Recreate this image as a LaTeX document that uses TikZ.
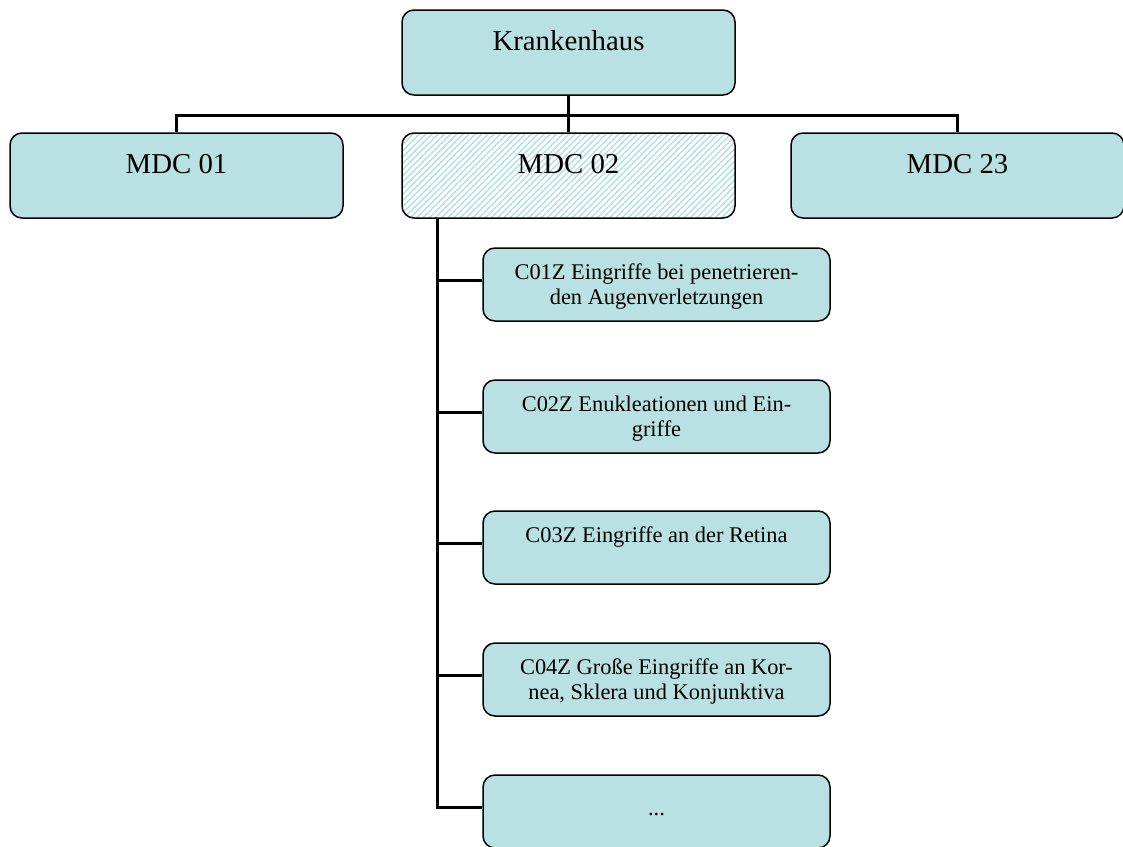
\documentclass[tikz,border=0pt]{standalone}
\usepackage{fontspec}
\setmainfont{Liberation Serif}
\usetikzlibrary{patterns.meta}
\definecolor{boxfill}{RGB}{185,224,227}

\begin{document}
\begin{tikzpicture}[x=0.5pt, y=-0.5pt]
    % Node styles
    \tikzstyle{unit} = [rectangle, rounded corners=6pt, draw, line width=0.75pt, fill=boxfill, minimum width=166.5pt, minimum height=42.5pt, inner ysep=0pt, text height=20pt, text depth=22.5pt, font=\fontsize{14.4}{17}\selectfont]
    \tikzstyle{drg} = [rectangle, rounded corners=6pt, draw, line width=0.75pt, fill=boxfill, minimum width=173.5pt, minimum height=36.5pt, inner ysep=0pt, text height=15.5pt, text depth=21pt, align=center, font=\fontsize{11.2}{12.8}\selectfont]
    \tikzstyle{twoline} = [text height=28.3pt, text depth=8.2pt]
    \tikzstyle{link} = [line width=1.3pt]

    \useasboundingbox (0,0) rectangle (1123,846);

    % Nodes
    \node (krankenhaus) at (568.5, 52.5) [unit] {Krankenhaus};
    \node (mdc_01) at (176.5, 175.5) [unit] {MDC 01};
    \node (mdc_02) at (568.5, 175.5) [unit, fill=none, pattern={Lines[angle=45, distance=2.2pt, line width=0.8pt]}, pattern color=boxfill] {MDC 02};
    \node (mdc_23) at (957.5, 175.5) [unit] {MDC 23};
    \node (c01z) at (656.5, 284.5) [drg, twoline] {C01Z Eingriffe bei penetrieren-\\den Augenverletzungen};
    \node (c02z) at (656.5, 416.5) [drg, twoline] {C02Z Enukleationen und Ein-\\griffe};
    \node (c03z) at (656.5, 547.5) [drg] {C03Z Eingriffe an der Retina};
    \node (c04z) at (656.5, 679.5) [drg, twoline] {C04Z Große Eingriffe an Kor-\\nea, Sklera und Konjunktiva};
    \node (c_more) at (656.5, 811.5) [drg, text height=20pt, text depth=16.5pt] {...};

    % Lines
    \draw[link] (krankenhaus.south) -- ++(0, 20) coordinate (bus);
    \draw[link] (bus) -| (mdc_01.north);
    \draw[link] (bus) -| (mdc_23.north);
    \draw[link] (bus) -- (mdc_02.north);
    \draw[link] ([xshift=18pt]mdc_02.south west) |- ([yshift=2pt]c_more.west);
    \foreach \drg in {c01z, c02z, c03z, c04z}
        \draw[link] ([yshift=2pt]\drg.west) -- ++(-45, 0);

\end{tikzpicture}
\end{document}
